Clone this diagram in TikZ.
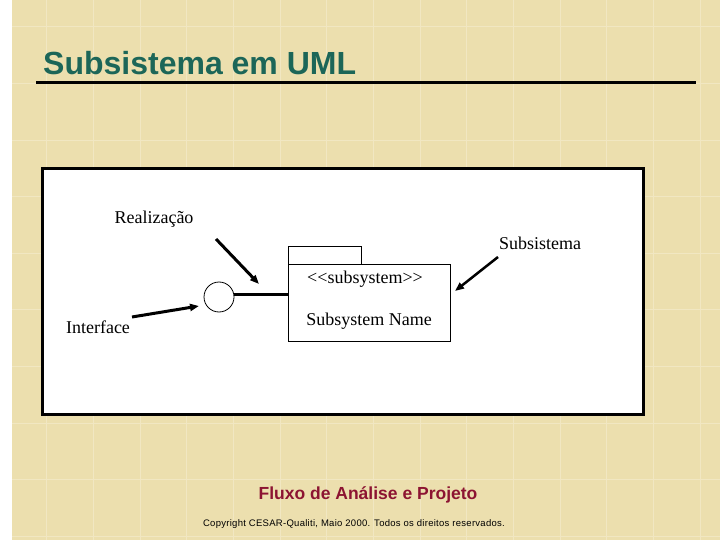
\documentclass[tikz,border=0pt]{standalone}
\usepackage{fontspec}
\setmainfont{Liberation Serif}
\newfontfamily\arialfont{Liberation Sans}
\newfontfamily\arialspaced[LetterSpace=3]{Liberation Sans}
\usetikzlibrary{arrows.meta}
\definecolor{bgbeige}{RGB}{236,223,174}
\definecolor{gridline}{RGB}{241,231,194}
\definecolor{titleteal}{RGB}{28,102,88}
\definecolor{footred}{RGB}{140,20,50}
\tikzset{
  lbl/.style={font=\fontsize{18}{20}\selectfont, inner sep=0pt},
  pointer/.style={line width=3pt, -{Triangle[length=9pt,width=7pt]}},
  pkg/.style={draw=black, line width=0.8pt, fill=white},
}
\begin{document}
\begin{tikzpicture}[x=1pt,y=-1pt]
\useasboundingbox (0,0) rectangle (720,540);
% background
\fill[white] (0,0) rectangle (720,540);
\fill[bgbeige] (12,0) rectangle (720,540);
\foreach \i in {1,...,15} {
  \draw[gridline, line width=0.9pt] ({700-46.67*(15-\i)},0) -- ({700-46.67*(15-\i)},540);
}
\foreach \j in {0,...,9} {
  \draw[gridline, line width=0.9pt] (12,{26.8+56.6*\j}) -- (720,{26.8+56.6*\j});
}
% title
\node[anchor=base west, inner sep=0pt, text=titleteal, font=\arialfont\bfseries\fontsize{32}{35}\selectfont] (title) at (43,75) {Subsistema em UML};
\draw[black, line width=3pt] (36,83) -- (696,83);
% white panel
\node[draw=black, line width=3pt, fill=white, minimum width=601pt, minimum height=246pt, anchor=north west, inner sep=0pt] (panel) at (41,167) {};
% labels
\node[lbl] (real) at (154,219) {Realização};
\node[lbl] (subs) at (540,243) {Subsistema};
\node[lbl] (iface) at (98,327) {Interface};
% package
\node[pkg, minimum width=73pt, minimum height=18pt, anchor=north west, inner sep=0pt] (tab) at (288,246) {};
\node[pkg, minimum width=162pt, minimum height=77pt, anchor=north west, inner sep=0pt] (body) at (288,264) {};
\node[lbl] (stereo) at (365,279) {{<}{<}subsystem{>}{>}};
\node[lbl] (name) at (369,321) {Subsystem Name};
% interface circle
\node[draw=black, line width=0.8pt, fill=white, circle, minimum size=30pt, inner sep=0pt] (circ) at (219,297) {};
\draw[line width=3pt] (circ.east |- 0,294) -- (body.west |- 0,294);
% pointer arrows
\coordinate (rs) at (216,239);
\coordinate (rt) at (259,284);
\coordinate (is) at (132,317);
\coordinate (it) at (199,306);
\coordinate (ss) at (498,257);
\coordinate (st) at (455,291);
\draw[pointer] (rs) -- (rt);
\draw[pointer] (is) -- (it);
\draw[pointer, line width=2.5pt] (ss) -- (st);
% footer
\node[text=footred, font=\arialfont\bfseries\fontsize{17.5}{20}\selectfont, inner sep=0pt] (foot) at (368,495) {Fluxo de Análise e Projeto};
\node[font=\arialspaced\fontsize{9.5}{11}\selectfont, inner sep=0pt] (copy) at (354,524) {Copyright CESAR-Qualiti, Maio 2000. Todos os direitos reservados.};
\end{tikzpicture}
\end{document}
